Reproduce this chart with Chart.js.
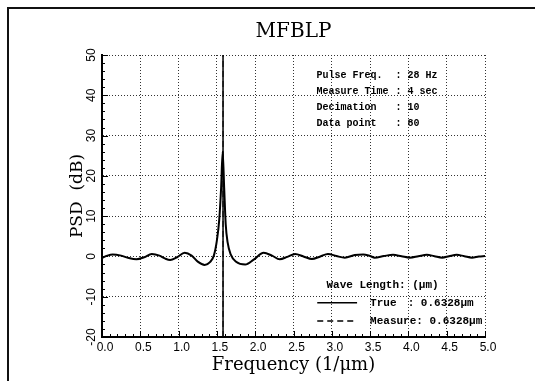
<!DOCTYPE html>
<html>
<head>
<meta charset="utf-8">
<script src="https://cdn.jsdelivr.net/npm/chart.js@4"></script>
<style>
  html, body { margin: 0; padding: 0; background: #fff; }
  #wrap { width: 535px; height: 381px; position: relative; }
</style>
</head>
<body>
<div id="wrap"><canvas id="psdChart"></canvas></div>
<script>
// spectrum (frequency 1/um, PSD dB)
const freqs = [0.00, 0.07, 0.14, 0.25, 0.35, 0.45, 0.55, 0.65, 0.75, 0.82, 0.89, 0.98, 1.08, 1.17, 1.25, 1.34, 1.41, 1.46, 1.50, 1.53, 1.555, 1.575, 1.595, 1.615, 1.64, 1.68, 1.75, 1.87, 1.98, 2.11, 2.22, 2.32, 2.42, 2.52, 2.63, 2.74, 2.85, 2.95, 3.06, 3.17, 3.30, 3.41, 3.50, 3.56, 3.68, 3.80, 3.91, 4.02, 4.13, 4.24, 4.34, 4.44, 4.53, 4.63, 4.73, 4.83, 4.92, 5.00];
const psd = [-0.4, 0.2, 0.5, 0.2, -0.4, -0.7, -0.2, 0.6, 0.2, -0.5, -0.9, -0.2, 0.9, 0.2, -1.3, -2.1, -1.4, 0.2, 4.0, 9.0, 17.0, 26.0, 17.0, 8.0, 3.5, 0.5, -1.3, -2.0, -0.8, 0.9, 0.2, -0.7, -0.1, 0.6, 0.0, -0.65, 0.0, 0.6, 0.1, -0.3, 0.35, 0.5, 0.1, -0.3, 0.1, 0.4, 0.05, -0.3, 0.05, 0.4, 0.05, -0.3, 0.05, 0.4, 0.05, -0.3, 0.0, 0.1];

// marker lines at the true / measured wave length (1/0.6328 um)
const markX = [1.58, 1.58];
const markY = [-20, 50];

const infoLabels = ['Pulse Freq.', 'Measure Time', 'Decimation', 'Data point'];
const infoValues = [': 28 Hz', ': 4 sec', ': 10', ': 80'];

const toXY = (xs, ys) => xs.map((x, i) => ({ x: x, y: ys[i] }));

const isMajor = (v, step) => Math.abs(Math.round(v / step) * step - v) < 1e-6;

const decor = {
    id: 'decor',
    beforeDraw(chart) {
        const ctx = chart.ctx;
        ctx.save();
        ctx.strokeStyle = '#111';
        ctx.lineWidth = 2;
        ctx.beginPath();
        ctx.moveTo(8, 381);
        ctx.lineTo(8, 8);
        ctx.lineTo(535, 8);
        ctx.stroke();
        ctx.restore();
    },
    afterDraw(chart) {
        const ctx = chart.ctx;
        const xs = chart.scales.x, ys = chart.scales.y;
        const area = chart.chartArea;
        ctx.save();
        ctx.strokeStyle = '#000';
        ctx.lineWidth = 1;

        // inward tick marks
        ctx.beginPath();
        for (let v = -20; v <= 50; v += 2) {
            const py = Math.round(ys.getPixelForValue(v)) + 0.5;
            const len = isMajor(v, 10) ? 6 : 3;
            ctx.moveTo(area.left, py);
            ctx.lineTo(area.left + len, py);
        }
        for (let i = 0; i <= 50; i++) {
            const v = i / 10;
            const px = Math.round(xs.getPixelForValue(v)) + 0.5;
            const len = i % 5 === 0 ? 6 : 3;
            ctx.moveTo(px, area.bottom);
            ctx.lineTo(px, area.bottom - len);
        }
        ctx.stroke();

        // info block
        ctx.fillStyle = '#000';
        ctx.textBaseline = 'middle';
        ctx.font = 'bold 10px "Liberation Mono"';
        const infoY = [45, 41, 37, 33];
        infoLabels.forEach((t, i) => {
            const py = ys.getPixelForValue(infoY[i]);
            ctx.fillText(t, xs.getPixelForValue(2.8), py);
            ctx.fillText(infoValues[i], xs.getPixelForValue(3.83), py);
        });

        // legend block
        ctx.font = 'bold 11px "Liberation Mono"';
        ctx.fillText('Wave Length: (\u03bcm)', xs.getPixelForValue(2.93), ys.getPixelForValue(-7.1));
        const y1 = ys.getPixelForValue(-11.5), y2 = ys.getPixelForValue(-16);
        const lx0 = xs.getPixelForValue(2.81), lx1 = xs.getPixelForValue(3.33);
        ctx.lineWidth = 1.5;
        ctx.beginPath();
        ctx.moveTo(lx0, y1); ctx.lineTo(lx1, y1);
        ctx.stroke();
        ctx.setLineDash([6, 4]);
        ctx.beginPath();
        ctx.moveTo(lx0, y2); ctx.lineTo(lx1, y2);
        ctx.stroke();
        ctx.setLineDash([]);
        ctx.fillText('True', xs.getPixelForValue(3.5), y1);
        ctx.fillText(': 0.6328\u03bcm', xs.getPixelForValue(3.99), y1);
        ctx.fillText('Measure: 0.6328\u03bcm', xs.getPixelForValue(3.5), y2);
        ctx.restore();
    }
};

const gridDots = (step) => ({
    color: (c) => (c.tick && isMajor(c.tick.value, step) ? '#333' : 'rgba(0,0,0,0)'),
    lineWidth: 1,
    drawTicks: false
});

new Chart(document.getElementById('psdChart'), {
    type: 'line',
    data: {
        datasets: [
            {
                label: 'PSD',
                data: toXY(freqs, psd),
                borderColor: '#000',
                borderWidth: 2,
                pointRadius: 0,
                cubicInterpolationMode: 'monotone',
                fill: false
            },
            {
                label: 'True',
                data: toXY(markX, markY),
                borderColor: '#000',
                borderWidth: 1.5,
                pointRadius: 0,
                fill: false
            },
            {
                label: 'Measure',
                data: toXY(markX, markY),
                borderColor: '#000',
                borderWidth: 1,
                borderDash: [6, 4],
                pointRadius: 0,
                fill: false
            }
        ]
    },
    options: {
        responsive: true,
        maintainAspectRatio: false,
        animation: false,
        layout: { padding: { left: 0, right: 50, top: 0, bottom: 0 } },
        scales: {
            x: {
                type: 'linear',
                min: 0,
                max: 5,
                afterFit: (s) => { s.height = 44; },
                ticks: {
                    stepSize: 0.1,
                    autoSkip: false,
                    maxRotation: 0,
                    padding: 3,
                    labelOffset: 3,
                    color: '#000',
                    font: { family: '"Liberation Sans"', size: 12 },
                    callback: (v) => (isMajor(v, 0.5) ? v.toFixed(1) : '')
                },
                grid: gridDots(0.5),
                border: { display: true, color: '#000', width: 2, dash: [1, 2] },
                title: {
                    display: true,
                    text: 'Frequency (1/\u03bcm)',
                    color: '#000',
                    font: { family: '"DejaVu Serif"', size: 18 },
                    padding: { top: 0, bottom: 5 }
                }
            },
            y: {
                type: 'linear',
                min: -20,
                max: 50,
                afterFit: (s) => { s.width = 102; },
                ticks: {
                    stepSize: 2,
                    autoSkip: false,
                    minRotation: 90,
                    maxRotation: 90,
                    crossAlign: 'center',
                    padding: 2,
                    color: '#000',
                    font: { family: '"Liberation Sans"', size: 12 },
                    callback: (v) => (isMajor(v, 10) ? String(v) : '')
                },
                grid: gridDots(10),
                border: { display: true, color: '#000', width: 2, dash: [1, 2] },
                title: {
                    display: true,
                    text: 'PSD  (dB)',
                    color: '#000',
                    font: { family: '"DejaVu Serif"', size: 17 },
                    padding: { top: 67, bottom: 0 }
                }
            }
        },
        plugins: {
            legend: { display: false },
            tooltip: { enabled: false },
            title: {
                display: true,
                text: 'MFBLP',
                fullSize: false,
                color: '#000',
                font: { family: '"DejaVu Serif"', size: 20, weight: 'normal' },
                padding: { top: 20, bottom: 11 }
            }
        }
    },
    plugins: [decor]
});
</script>
</body>
</html>
